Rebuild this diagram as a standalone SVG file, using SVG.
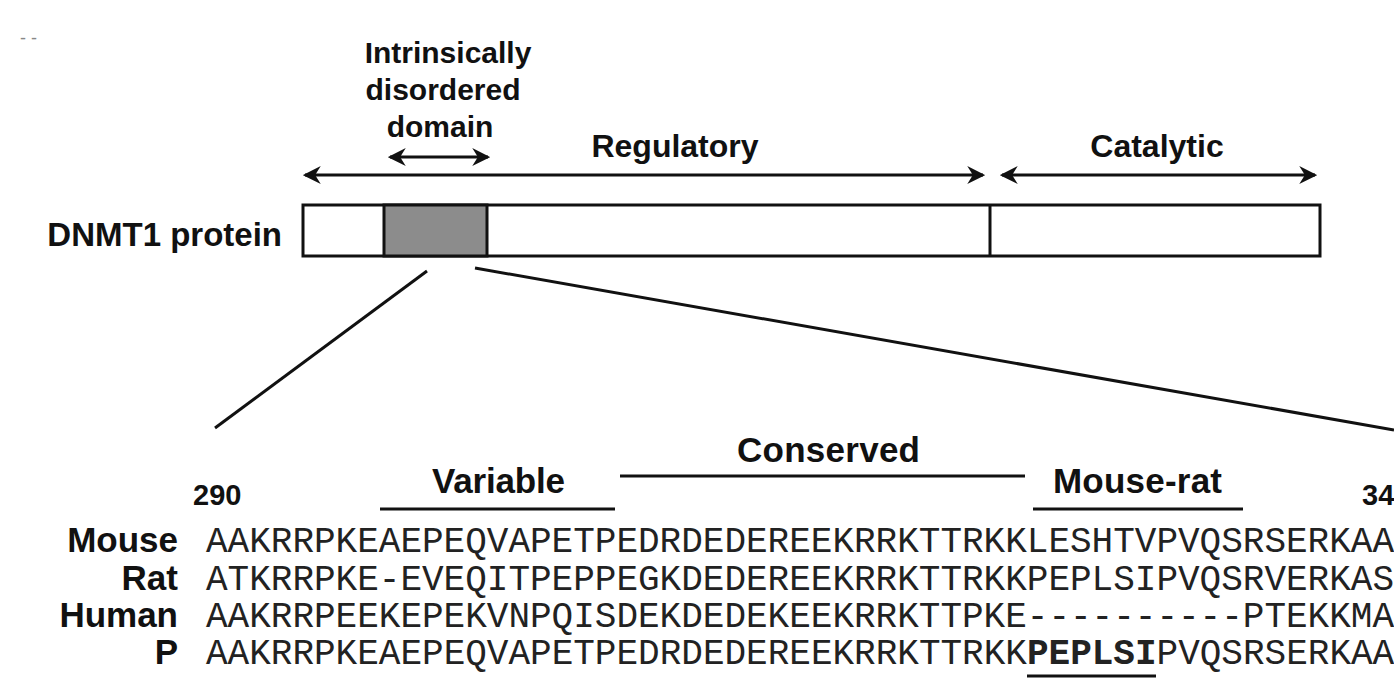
<svg xmlns="http://www.w3.org/2000/svg" width="1394" height="690" viewBox="0 0 1394 690">
<style>
.lbl{font-family:"Liberation Sans",Arial,sans-serif;font-weight:bold;fill:#111}
.seq{font-family:"Liberation Mono","Courier New",monospace;font-size:36px;fill:#222}
.ln{stroke:#111;stroke-width:3;fill:none}
.box{stroke:#111;stroke-width:3}
</style>
<defs>
<marker id="ah" viewBox="0 0 16 16" refX="14" refY="8" markerWidth="18" markerHeight="18" markerUnits="userSpaceOnUse" orient="auto-start-reverse">
<path d="M0,0 L16,8 L0,16 L5,8 z" fill="#111"/>
</marker>
</defs>
<rect width="1394" height="690" fill="#fff"/>
<text x="20" y="44" style="font-family:'Liberation Sans',sans-serif;font-size:18px;fill:#888">- -</text>

<g id="idd-label">
<text class="lbl" x="448" y="63" font-size="30" text-anchor="middle">Intrinsically</text>
<text class="lbl" x="443" y="100" font-size="30" text-anchor="middle">disordered</text>
<text class="lbl" x="440" y="137" font-size="30" text-anchor="middle">domain</text>
</g>
<g id="regulatory-label"><text class="lbl" x="675" y="157" font-size="32" text-anchor="middle">Regulatory</text></g>
<g id="catalytic-label"><text class="lbl" x="1157" y="157" font-size="32" text-anchor="middle">Catalytic</text></g>

<g id="protein">
<text class="lbl" x="282" y="246" font-size="33" text-anchor="end">DNMT1 protein</text>
<rect class="box" x="303" y="205" width="1017" height="51" fill="#fff"/>
<rect class="box" x="384" y="205" width="103" height="51" fill="#8c8c8c"/>
<line class="box" x1="990" y1="205" x2="990" y2="256"/>
</g>

<g id="connectors">
<line class="ln" x1="390" y1="157" x2="488" y2="157" marker-start="url(#ah)" marker-end="url(#ah)"/>
<line class="ln" x1="305" y1="175" x2="983" y2="175" marker-start="url(#ah)" marker-end="url(#ah)"/>
<line class="ln" x1="1002" y1="175" x2="1315" y2="175" marker-start="url(#ah)" marker-end="url(#ah)"/>
<line class="ln" x1="427" y1="271" x2="215" y2="428"/>
<line class="ln" x1="475" y1="268" x2="1394" y2="430"/>
<line class="ln" x1="620" y1="476" x2="1025" y2="476"/>
<line class="ln" x1="380" y1="509" x2="615" y2="509"/>
<line class="ln" x1="1033" y1="509" x2="1243" y2="509"/>
<line class="ln" x1="1027" y1="676" x2="1156" y2="676" stroke-width="2.5"/>
</g>

<g id="region-labels">
<text class="lbl" x="737" y="462" font-size="35" textLength="183">Conserved</text>
<text class="lbl" x="432" y="493" font-size="35" textLength="133">Variable</text>
<text class="lbl" x="1053" y="493" font-size="35" textLength="169">Mouse-rat</text>
<text class="lbl" x="193" y="505" font-size="29">290</text>
<text class="lbl" x="1362" y="505" font-size="29">34</text>
</g>

<g id="alignment">
<text class="lbl" x="178" y="552" font-size="35" text-anchor="end">Mouse</text>
<text class="lbl" x="178" y="590" font-size="35" text-anchor="end">Rat</text>
<text class="lbl" x="178" y="627" font-size="35" text-anchor="end">Human</text>
<text class="lbl" x="178" y="664" font-size="35" text-anchor="end">P</text>
<text class="seq" x="206" y="552" textLength="1188" lengthAdjust="spacing">AAKRRPKEAEPEQVAPETPEDRDEDEREEKRRKTTRKKLESHTVPVQSRSERKAA</text>
<text class="seq" x="206" y="590" textLength="1188" lengthAdjust="spacing">ATKRRPKE-EVEQITPEPPEGKDEDEREEKRRKTTRKKPEPLSIPVQSRVERKAS</text>
<text class="seq" x="206" y="627" textLength="1188" lengthAdjust="spacing">AAKRRPEEKEPEKVNPQISDEKDEDEKEEKRRKTTPKE----------PTEKKMA</text>
<text class="seq" x="206" y="664">AAKRRPKEAEPEQVAPETPEDRDEDEREEKRRKTTRKK<tspan font-weight="bold">PEPLSI</tspan>PVQSRSERKAA</text>
</g>
</svg>
